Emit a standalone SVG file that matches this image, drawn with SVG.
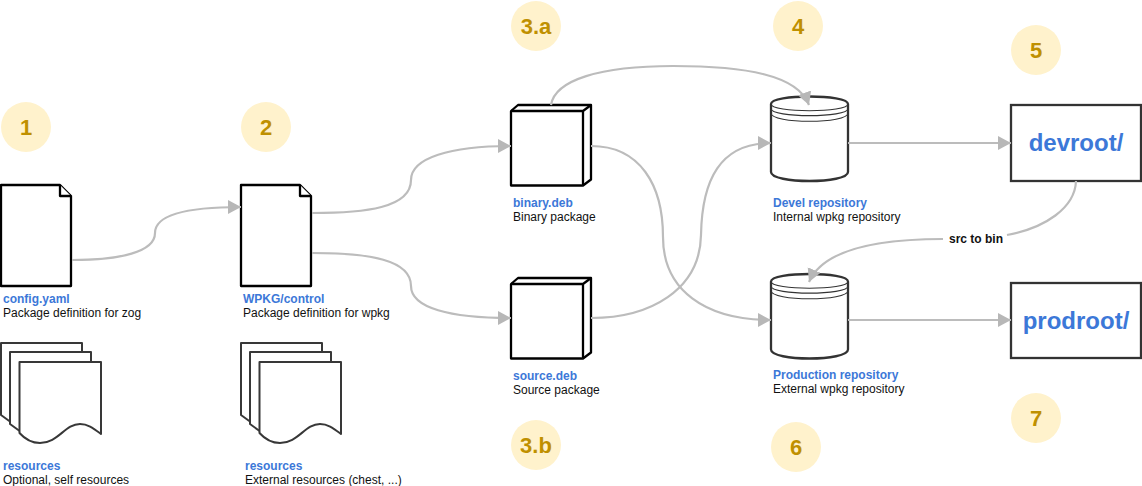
<svg xmlns="http://www.w3.org/2000/svg" width="1142" height="486" viewBox="0 0 1142 486">
<style>
text{font-family:"Liberation Sans",Arial,sans-serif;font-size:12px;fill:#111}
.t{font-weight:bold;fill:#3c78d8}
.n{font-weight:bold;font-size:22px;fill:#bf9000;text-anchor:middle}
.c{fill:#fff2cc}
.s{fill:#fff;stroke:#000;stroke-width:2.3;stroke-linejoin:round}
.d{fill:#fff;stroke:#383838;stroke-width:2;stroke-linejoin:round}
.i{fill:none;stroke:#333;stroke-width:1.1}
.r{fill:#fff;stroke:#333;stroke-width:2.3}
.big{font-weight:bold;font-size:24px;fill:#3c78d8;text-anchor:middle}
.e{fill:none;stroke:#bcbcbc;stroke-width:2.2}
</style>
<defs>
<marker id="a" markerUnits="userSpaceOnUse" markerWidth="16" markerHeight="16" refX="13" refY="8" orient="auto"><path d="M0 1L13 8L0 15Z" fill="#b7b7b7"/></marker>
</defs>
<g id="n1"><circle class="c" cx="26" cy="127" r="25"/><text class="n" x="26" y="135">1</text></g>
<g id="n2"><circle class="c" cx="266" cy="127" r="25"/><text class="n" x="266" y="135">2</text></g>
<g id="n3a"><circle class="c" cx="536" cy="26" r="25"/><text class="n" x="536" y="34">3.a</text></g>
<g id="n3b"><circle class="c" cx="536" cy="445" r="25"/><text class="n" x="536" y="453">3.b</text></g>
<g id="n4"><circle class="c" cx="798" cy="26" r="25"/><text class="n" x="798" y="34">4</text></g>
<g id="n5"><circle class="c" cx="1036" cy="50" r="25"/><text class="n" x="1036" y="58">5</text></g>
<g id="n6"><circle class="c" cx="796" cy="447" r="25"/><text class="n" x="796" y="455">6</text></g>
<g id="n7"><circle class="c" cx="1036" cy="418" r="25"/><text class="n" x="1036" y="426">7</text></g>
<g id="config"><path class="s" d="M1 185H60L71 196V286H1Z"/><path class="s" d="M60 185V196H71" stroke-width="1.500"/><text class="t" x="3" y="303">config.yaml</text><text x="3" y="317">Package definition for zog</text></g>
<g id="control"><path class="s" d="M241 185H300L311 196V286H241Z"/><path class="s" d="M300 185V196H311" stroke-width="1.500"/><text class="t" x="243" y="303">WPKG/control</text><text x="243" y="317">Package definition for wpkg</text></g>
<g id="res1">
<path class="d" d="M1 343H82V375H12V423L1 415Z"/><path class="d" d="M10 352H91V380H21V432L10 424Z"/>
<path class="d" d="M19.500 362H101V434C93 428 88 424 80 424C65 424 58 443 40 443C30 443 24 438 19.500 433Z"/>
<text class="t" x="3" y="470">resources</text><text x="3" y="484">Optional, self resources</text></g>
<g id="res2">
<path class="d" d="M241 343H322V375H252V423L241 415Z"/><path class="d" d="M250 352H331V380H261V432L250 424Z"/>
<path class="d" d="M259.500 362H341V434C333 428 328 424 320 424C305 424 298 443 280 443C270 443 264 438 259.500 433Z"/>
<text class="t" x="245" y="470">resources</text><text x="245" y="484">External resources (chest, ...)</text></g>
<g id="binary"><path class="s" d="M511 111L518 105H591V179.500L583 185.500H511Z"/><path class="s" d="M511 111H583V185.500M583 111L591 105"/><text class="t" x="513" y="207">binary.deb</text><text x="513" y="221">Binary package</text></g>
<g id="source"><path class="s" d="M511 284L518 278H591V352.500L583 358.500H511Z"/><path class="s" d="M511 284H583V358.500M583 284L591 278"/><text class="t" x="513" y="380">source.deb</text><text x="513" y="394">Source package</text></g>
<g id="devel"><path class="r" d="M771 104C771 94 848 94 848 104V172C848 184 771 184 771 172Z"/><path class="i" d="M771 104C771 113 848 113 848 104M771 108.500C771 118 848 118 848 108.500M771 113C771 124 848 124 848 113"/><text class="t" x="773" y="207">Devel repository</text><text x="773" y="221">Internal wpkg repository</text></g>
<g id="prod"><path class="r" d="M771 281.500C771 271.500 848 271.500 848 281.500V349.500C848 361.500 771 361.500 771 349.500Z"/><path class="i" d="M771 281.500C771 290.500 848 290.500 848 281.500M771 286C771 295.500 848 295.500 848 286M771 290.500C771 301.500 848 301.500 848 290.500"/><text class="t" x="773" y="379">Production repository</text><text x="773" y="393">External wpkg repository</text></g>
<g id="devroot"><rect class="r" x="1011" y="105" width="130" height="76"/><text class="big" x="1076" y="151">devroot/</text></g>
<g id="prodroot"><rect class="r" x="1011" y="283" width="130" height="75"/><text class="big" x="1076" y="329">prodroot/</text></g>
<g id="connectors">
<path class="e" marker-end="url(#a)" d="M72 260C120 260 155 252 155 233C155 215 185 207 241 207"/>
<path class="e" marker-end="url(#a)" d="M312 213C365 213 411 208 411 180C411 158 450 146 511 146"/>
<path class="e" marker-end="url(#a)" d="M312 253C370 253 411 260 411 286C411 308 450 318 511 318"/>
<path class="e" marker-end="url(#a)" d="M551 105C555 80 600 66 673 66C745 66 798 75 809 105"/>
<path class="e" marker-end="url(#a)" d="M591 146C640 146 663 185 663 237C663 290 705 320 771 320"/>
<path class="e" marker-end="url(#a)" d="M591 318C650 318 700 290 701 235C702 180 720 143 771 143"/>
<path class="e" marker-end="url(#a)" d="M848 143H1011"/>
<path class="e" marker-end="url(#a)" d="M848 320H1011"/>
<path class="e" d="M1076 181C1075 208 1045 228 1007 235"/>
<path class="e" marker-end="url(#a)" d="M943 239C870 239 822 252 809 282"/>
<text x="949" y="243" style="font-weight:bold">src to bin</text>
</g>
</svg>
